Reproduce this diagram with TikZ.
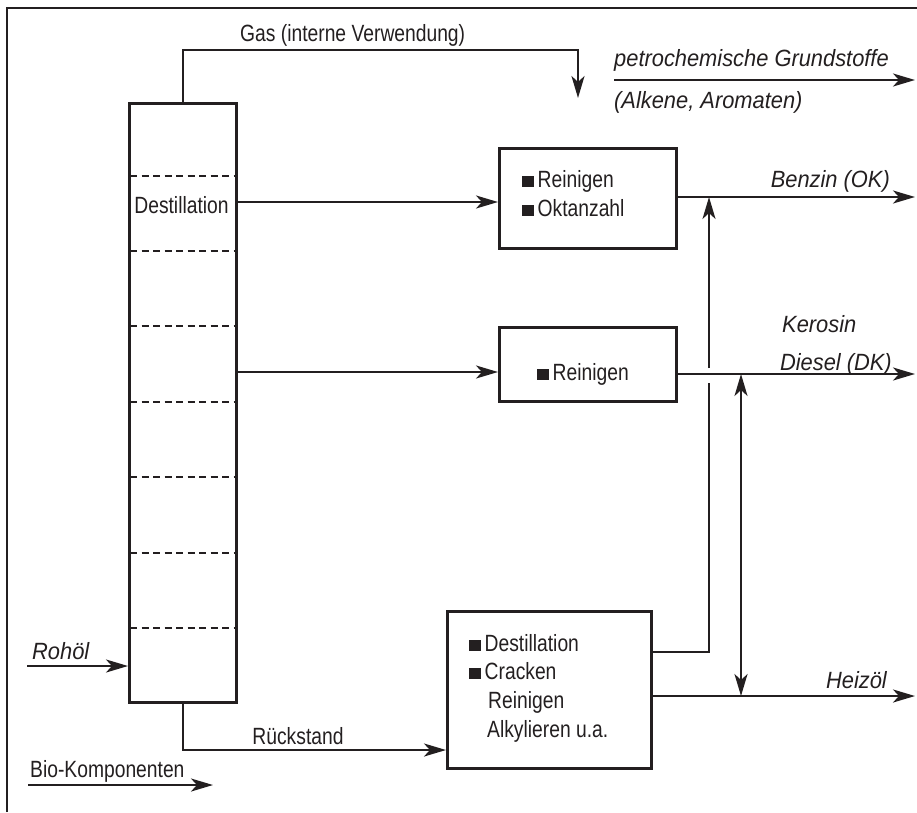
\documentclass[tikz,border=0pt]{standalone}
\usepackage{fontspec}
\setmainfont[FakeStretch=0.82]{Liberation Sans}
\newfontfamily\itfam[FakeStretch=0.93]{Liberation Sans}
\usetikzlibrary{arrows.meta}
\definecolor{ink}{RGB}{35,31,32}
\newcommand\sqb{\rule{11.5pt}{11.5pt}\hspace{4pt}}
\tikzset{
  ln/.style={draw=ink,line width=2.4pt},
  arr/.style={ln,-{Stealth[length=22pt,width=13pt,inset=6pt]}},
  darr/.style={ln,{Stealth[length=22pt,width=13pt,inset=6pt]}-{Stealth[length=22pt,width=13pt,inset=6pt]}},
  box/.style={draw=ink,line width=2.7pt,inner sep=0pt,anchor=north west},
  lbl/.style={inner sep=0pt,text=ink,font=\fontsize{23.5}{28}\selectfont},
  ilbl/.style={lbl,font=\fontsize{23.5}{28}\selectfont\itfam\itshape},
  dsh/.style={draw=ink,line width=2.4pt,dash pattern=on 7pt off 4.5pt},
}
\begin{document}
\begin{tikzpicture}[x=1pt,y=-1pt]
\useasboundingbox (0,0) rectangle (917,812);
% frame
\draw[ink,line width=2.7pt] (7,812) -- (7,8) -- (917,8);
% column
\node[box,minimum width=107pt,minimum height=599pt] (col) at (128,102) {};
\foreach \yy in {176,251,326,402,477,553,628}
  \draw[dsh] (130,\yy) -- (234,\yy);
\node[lbl,anchor=base] (destcol) at (181.5,213) {Destillation};
% boxes
\node[box,minimum width=177pt,minimum height=100pt] (b1) at (498,147) {};
\node[box,minimum width=177pt,minimum height=74pt] (b2) at (498,326) {};
\node[box,minimum width=204pt,minimum height=157pt] (b3) at (446,610) {};
% box texts
\node[lbl,anchor=base west] (t11) at (522,187) {\sqb Reinigen};
\node[lbl,anchor=base west] (t12) at (522,216) {\sqb Oktanzahl};
\node[lbl,anchor=base west] (t21) at (537,380) {\sqb Reinigen};
\node[lbl,anchor=base west] (t31) at (469,651) {\sqb Destillation};
\node[lbl,anchor=base west] (t32) at (469,679) {\sqb Cracken};
\node[lbl,anchor=base west] (t33) at (488,708) {Reinigen};
\node[lbl,anchor=base west] (t34) at (487,737) {Alkylieren u.a.};
% outer labels
\node[lbl,anchor=base west] (gas) at (240,41) {Gas (interne Verwendung)};
\node[ilbl,anchor=base west] (petro) at (614,66) {petrochemische Grundstoffe};
\node[ilbl,anchor=base west] (alk) at (614,108) {(Alkene, Aromaten)};
\node[ilbl,anchor=base east] (benzin) at (890,187) {Benzin (OK)};
\node[ilbl,anchor=base west] (kero) at (782,332) {Kerosin};
\node[ilbl,anchor=base east] (diesel) at (892,370) {Diesel (DK)};
\node[ilbl,anchor=base east] (heiz) at (887,688) {Heizöl};
\node[ilbl,anchor=base west] (roh) at (32,659) {Rohöl};
\node[lbl,anchor=base] (rueck) at (298,744) {Rückstand};
\node[lbl,anchor=base west] (bio) at (30,777) {Bio-Komponenten};
% coordinates
\coordinate (gasc) at (578,50);
\coordinate (gasend) at (578,98);
\coordinate (p1) at (614,80);
\coordinate (p2) at (915,80);
\coordinate (y1) at (0,202);
\coordinate (y2) at (0,372);
\coordinate (o1) at (915,197);
\coordinate (o2) at (915,374);
\coordinate (o3) at (915,696);
\coordinate (u1) at (709,652);
\coordinate (gapbot) at (709,383);
\coordinate (gaptop) at (709,368);
\coordinate (bj) at (709,197);
\coordinate (dk) at (741,374);
\coordinate (hz) at (741,696);
\coordinate (r0) at (27,666);
\coordinate (rk) at (0,750);
\coordinate (bio0) at (28,785);
\coordinate (bio1) at (213,785);
% connectors
\draw[arr] (col.north) |- (gasc) -- (gasend);
\draw[arr] (p1) -- (p2);
\draw[arr] (col.east |- y1) -- (b1.west |- y1);
\draw[arr] (col.east |- y2) -- (b2.west |- y2);
\draw[arr] (b1.east |- o1) -- (o1);
\draw[arr] (b2.east |- o2) -- (o2);
\draw[arr] (b3.east |- o3) -- (o3);
\draw[ln] (b3.east |- u1) -- (u1) -- (gapbot);
\draw[arr] (gaptop) -- (bj);
\draw[darr] (hz) -- (dk);
\draw[arr] (r0) -- (col.west |- r0);
\draw[arr] (col.south) |- (b3.west |- rk);
\draw[arr] (bio0) -- (bio1);
\end{tikzpicture}
\end{document}
